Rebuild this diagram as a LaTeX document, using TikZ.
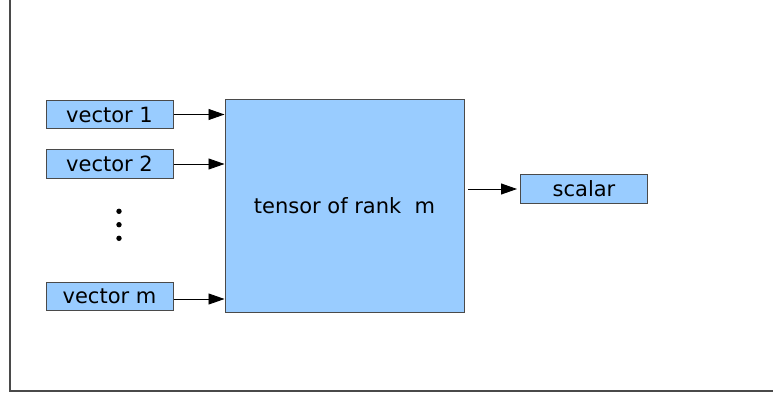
\documentclass[tikz,border=0pt]{standalone}
\usepackage{fontspec}
\setmainfont{DejaVu Sans}
\usetikzlibrary{arrows.meta}
\definecolor{boxfill}{HTML}{99CCFF}
\definecolor{boxline}{HTML}{4A4A4A}
\begin{document}
\begin{tikzpicture}[x=1pt,y=-1pt,
  vbox/.style={draw=boxline,fill=boxfill,line width=1pt,minimum width=127pt,minimum height=28.5pt,inner sep=0pt,font=\fontsize{21}{24}\selectfont},
  conn/.style={line width=0.9pt,-{Triangle[length=16pt,width=11pt]}}]
\useasboundingbox (0,0) rectangle (773,396);
\draw[boxline,line width=1.3pt] (10,0) -- (10,391) -- (773,391);
\node[vbox] (v1) at (109.5,114.5) {vector 1};
\node[vbox] (v2) at (109.5,164) {vector 2};
\node[vbox] (vm) at (109.5,296.5) {vector m};
\node[vbox,minimum width=239pt,minimum height=213pt] (t) at (344.5,205.7) {tensor of rank\ \ m};
\node[vbox] (s) at (584,189) {scalar};
\foreach \yy in {211.3,224.7,238.3} \fill (119,\yy) circle (2.7pt);
\draw[conn] (v1.east) -- (v1.east -| t.west);
\draw[conn] (v2.east) -- (v2.east -| t.west);
\draw[conn] ([yshift=-2.5pt]vm.east) -- ([yshift=-2.5pt]vm.east -| t.west);
\draw[conn,shorten <=3.5pt,shorten >=3pt] (s.west -| t.east) -- (s.west);
\end{tikzpicture}
\end{document}
